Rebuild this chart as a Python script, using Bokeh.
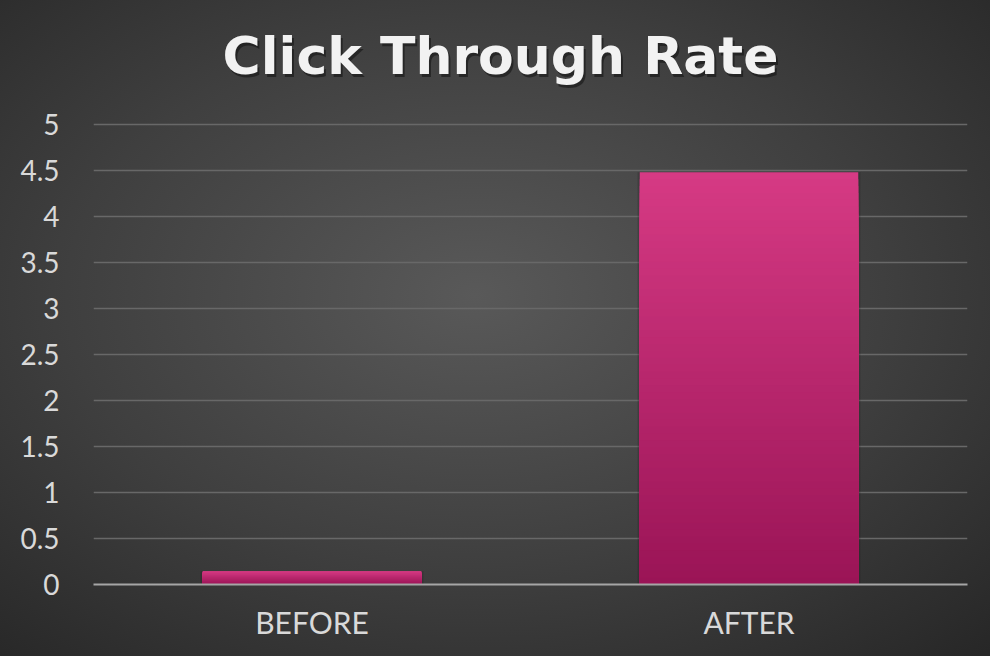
from bokeh.plotting import figure
from bokeh.models import Label, InlineStyleSheet, FixedTicker
from bokeh.embed import file_html
from bokeh.resources import INLINE

categories = ["BEFORE", "AFTER"]
ctr_values = [0.145, 4.48]
y_ticks = [0, 0.5, 1, 1.5, 2, 2.5, 3, 3.5, 4, 4.5, 5]
title_text = "Click Through Rate"

FONT = "Lato"
TITLE_FONT = "DejaVu Sans"
FRAME_H = 584
PX_PER_UNIT = 92.0

p = figure(x_range=categories, y_range=(0, FRAME_H / PX_PER_UNIT), frame_width=874,
           frame_height=FRAME_H, width=990, height=656, output_backend="svg",
           toolbar_location=None, min_border_left=93, min_border_right=23,
           min_border_top=0, min_border_bottom=72)

p.background_fill_alpha = 0
p.border_fill_alpha = 0
p.outline_line_color = None
p.stylesheets = [InlineStyleSheet(css=":host { background: radial-gradient(ellipse 75% 75% at 48% 45%, #595959 0%, #3f3f3f 55%, #272727 100%); }")]

# gradient bars: nested slices drawn from tallest (light) to shortest (dark)
top_col = (0xd6, 0x3a, 0x84)
bot_col = (0x9a, 0x14, 0x56)
N = 60
xs, tops, colors = [], [], []
for cat, v in zip(categories, ctr_values):
    for i in range(N):
        f = 1 - i / N
        xs.append(cat)
        tops.append(v * f)
        t = f - 0.5 / N
        c = tuple(int(round(b + (a - b) * t)) for a, b in zip(top_col, bot_col))
        colors.append("#%02x%02x%02x" % c)

# soft shadow
p.vbar(x=categories, top=ctr_values, width=0.51, bottom=0, fill_color="#1a1a1a",
       fill_alpha=0.25, line_color=None)
p.vbar(x=xs, top=tops, bottom=0, width=0.5, fill_color=colors, line_color=None)

# axes
p.yaxis.ticker = FixedTicker(ticks=y_ticks)
p.ygrid.ticker = FixedTicker(ticks=y_ticks)
p.ygrid.grid_line_color = "#686868"
p.ygrid.grid_line_width = 1.5
p.xgrid.grid_line_color = None

p.yaxis.axis_line_color = None
p.yaxis.major_tick_line_color = None
p.yaxis.minor_tick_line_color = None
p.yaxis.major_label_text_font = FONT
p.yaxis.major_label_text_font_size = "28px"
p.yaxis.major_label_text_color = "#d9d9d9"
p.yaxis.major_label_standoff = 28

p.xaxis.axis_line_color = "#a6a6a6"
p.xaxis.axis_line_width = 2
p.xaxis.major_tick_line_color = None
p.xaxis.minor_tick_line_color = None
p.xaxis.major_label_text_font = FONT
p.xaxis.major_label_text_font_size = "30px"
p.xaxis.major_label_text_color = "#d9d9d9"
p.xaxis.major_label_standoff = 13

# title with shadow
for dx, dy, col, alpha in [(2, -3, "#111111", 0.55), (0, 0, "#f2f2f2", 1.0)]:
    p.add_layout(Label(x=407 + dx, y=FRAME_H - 55 + dy, x_units="screen", y_units="screen",
                       text=title_text, text_font=TITLE_FONT, text_font_style="bold",
                       text_font_size="52px", text_color=col, text_alpha=alpha,
                       text_align="center", text_baseline="alphabetic"))

open("out.html", "w").write(file_html(p, INLINE))
